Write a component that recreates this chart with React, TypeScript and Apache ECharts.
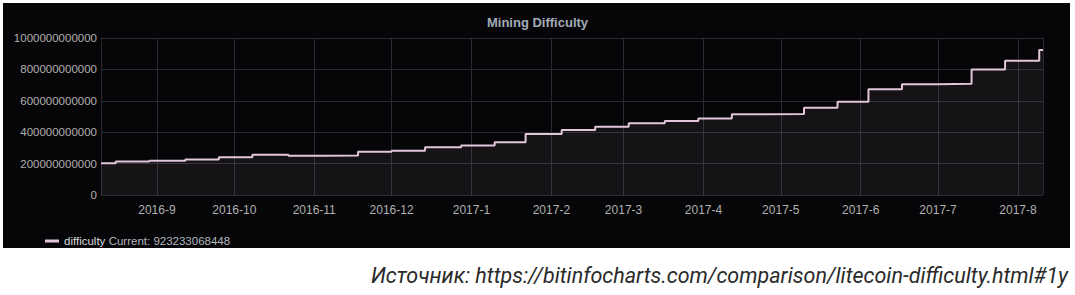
import React, { useEffect, useRef } from "react";
import * as echarts from "echarts";

const stepDates = [
  "2016-08-10 07:00", "2016-08-16", "2016-08-29", "2016-09-12", "2016-09-25",
  "2016-10-08", "2016-10-22", "2016-11-04", "2016-11-18", "2016-12-01",
  "2016-12-14", "2016-12-28", "2017-01-10", "2017-01-22", "2017-02-05",
  "2017-02-18", "2017-03-03", "2017-03-17", "2017-03-30", "2017-04-12",
  "2017-04-26", "2017-05-10", "2017-05-23", "2017-06-04", "2017-06-17",
  "2017-07-01", "2017-07-14", "2017-07-27", "2017-08-09 06:00", "2017-08-10 17:00",
];
const difficultyValues = [
  203e9, 213e9, 218e9, 226e9, 240e9,
  256e9, 250e9, 252e9, 276e9, 282e9,
  304e9, 316e9, 336e9, 389e9, 414e9,
  435e9, 457e9, 471e9, 488e9, 514e9,
  516e9, 556e9, 594e9, 673e9, 705e9,
  708e9, 800e9, 855e9, 923233068448, 923233068448,
];
const yTicks = [0, 200000000000, 400000000000, 600000000000, 800000000000, 1000000000000];
const seriesName = "difficulty";
const titleText = "Mining Difficulty";
const sourceText = "Источник: https://bitinfocharts.com/comparison/litecoin-difficulty.html#1y";

const toTs = (s: string) => {
  const [d, t] = s.split(" ");
  const [y, m, dd] = d.split("-").map(Number);
  const [hh, mm] = t ? t.split(":").map(Number) : [0, 0];
  return new Date(y, m - 1, dd, hh, mm).getTime();
};

export default function App() {
  const ref = useRef<HTMLDivElement>(null);
  useEffect(() => {
    if (!ref.current) return;
    const chart = echarts.init(ref.current, undefined, { renderer: "svg" });
    const data = stepDates.map((d, i) => [toTs(d), difficultyValues[i]]);
    const current = difficultyValues[difficultyValues.length - 1];
    const lineColor = "#e2c6da";
    chart.setOption({
      animation: false,
      backgroundColor: "#ffffff",
      graphic: [
        {
          type: "rect",
          shape: { x: 3, y: 3, width: 1067, height: 245 },
          style: { fill: "#060608" },
          z: -10,
          silent: true,
        },
        {
          type: "text",
          x: 1068,
          y: 275,
          style: {
            text: sourceText,
            fill: "#2a2a2a",
            font: "italic 21.5px Roboto",
            textAlign: "right",
            textVerticalAlign: "middle",
          },
        },
      ],
      title: {
        text: titleText,
        left: "center",
        top: 11,
        textStyle: { color: "#a3abb6", fontSize: 13, fontWeight: "bold", fontFamily: "Liberation Sans, Arial, sans-serif" },
      },
      legend: {
        left: 40,
        top: 230,
        icon: "rect",
        itemWidth: 14,
        itemHeight: 3,
        itemGap: 10,
        data: [seriesName],
        formatter: (name: string) => `{a|${name}} {b|Current: ${current}}`,
        textStyle: {
          fontFamily: "Liberation Sans, Arial, sans-serif",
          rich: {
            a: { color: "#d8d9da", fontSize: 11.5, fontFamily: "Liberation Sans, Arial, sans-serif" },
            b: { color: "#b3b7bd", fontSize: 11.5, fontFamily: "Liberation Sans, Arial, sans-serif" },
          },
        },
      },
      grid: { left: 101, right: 32, top: 38, bottom: 100, containLabel: false },
      xAxis: {
        type: "time",
        min: toTs(stepDates[0]),
        max: toTs(stepDates[stepDates.length - 1]),
        splitNumber: 12,
        minInterval: 28 * 86400000,
        axisLine: { show: false },
        axisTick: { show: false },
        splitLine: { show: true, lineStyle: { color: "#2a2a2e", width: 1 } },
        axisLabel: {
          color: "#b0b0b0",
          fontSize: 12,
          fontFamily: "Liberation Sans, Arial, sans-serif",
          margin: 9,
          showMinLabel: false,
          showMaxLabel: false,
          formatter: (v: number) => {
            const d = new Date(v);
            return `${d.getFullYear()}-${d.getMonth() + 1}`;
          },
        },
      },
      yAxis: {
        type: "value",
        min: yTicks[0],
        max: yTicks[yTicks.length - 1],
        interval: yTicks[1] - yTicks[0],
        axisLine: { show: false },
        axisTick: { show: false },
        splitLine: { show: true, lineStyle: { color: "#2a2a2e", width: 1 } },
        axisLabel: {
          color: "#b0b0b0",
          fontSize: 11.5,
          fontFamily: "Liberation Sans, Arial, sans-serif",
          margin: 4,
          formatter: (v: number) => String(v),
        },
      },
      series: [
        {
          name: seriesName,
          type: "line",
          step: "end",
          data,
          showSymbol: false,
          symbol: "none",
          lineStyle: { color: lineColor, width: 2 },
          itemStyle: { color: lineColor },
          areaStyle: { color: lineColor, opacity: 0.07 },
        },
      ],
    });
    return () => chart.dispose();
  }, []);
  return (
    <div
      ref={ref}
      style={{ position: "absolute", left: 0, top: 0, width: 1075, height: 295 }}
    />
  );
}
